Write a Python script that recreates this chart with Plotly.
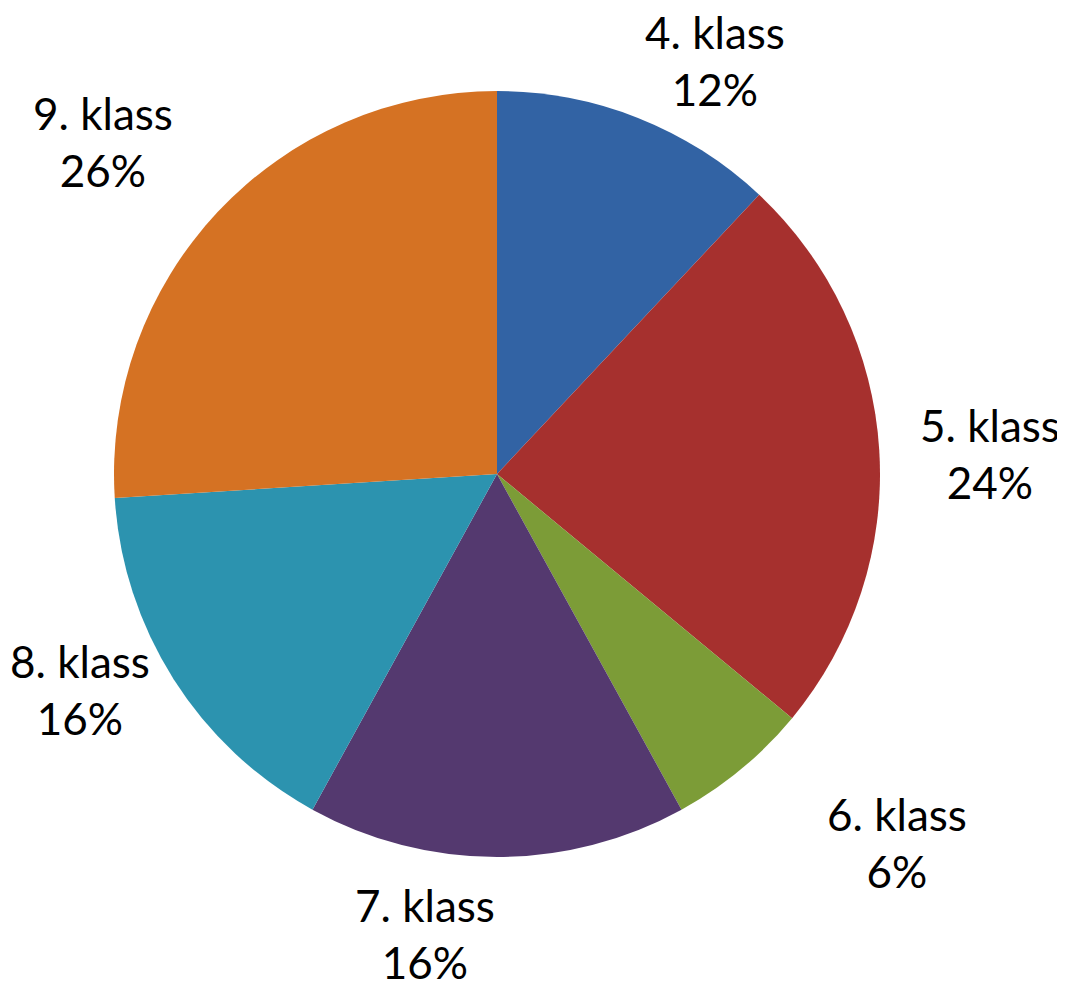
import plotly.graph_objects as go

categories = ["4. klass", "5. klass", "6. klass", "7. klass", "8. klass", "9. klass"]
values = [12, 24, 6, 16, 16, 26]
colors = ["#3263a4", "#a6302e", "#7c9c37", "#54396f", "#2c93af", "#d57223"]

OFF = 8  # page body margin
W, H = 1065 - OFF, 985 - OFF
cx, cy, r = 497 - OFF, 474 - OFF, 383

# label block centers (pixels in the final screenshot), Excel-like best-fit placement
label_pos = [(715, 60), (990, 454), (897, 842), (425, 933), (80, 689), (103, 142)]

fig = go.Figure(go.Pie(
    labels=categories,
    values=values,
    sort=False,
    direction="clockwise",
    rotation=0,
    textinfo="none",
    hoverinfo="label+percent",
    marker=dict(colors=colors, line=dict(width=0)),
    domain=dict(x=[(cx - r) / W, (cx + r) / W], y=[1 - (cy + r) / H, 1 - (cy - r) / H]),
    showlegend=False,
))

total = sum(values)
for cat, v, (px, py) in zip(categories, values, label_pos):
    fig.add_annotation(
        x=(px - OFF) / W, y=1 - (py - OFF) / H, xref="paper", yref="paper",
        text=f"{cat}<br>{round(100 * v / total)}%",
        showarrow=False, xanchor="center", yanchor="middle",
        font=dict(family="Lato", size=44, color="#000000"),
    )

fig.update_layout(
    width=W, height=H,
    margin=dict(l=0, r=0, t=0, b=0),
    paper_bgcolor="white", plot_bgcolor="white",
)

fig.write_html("out.html")
